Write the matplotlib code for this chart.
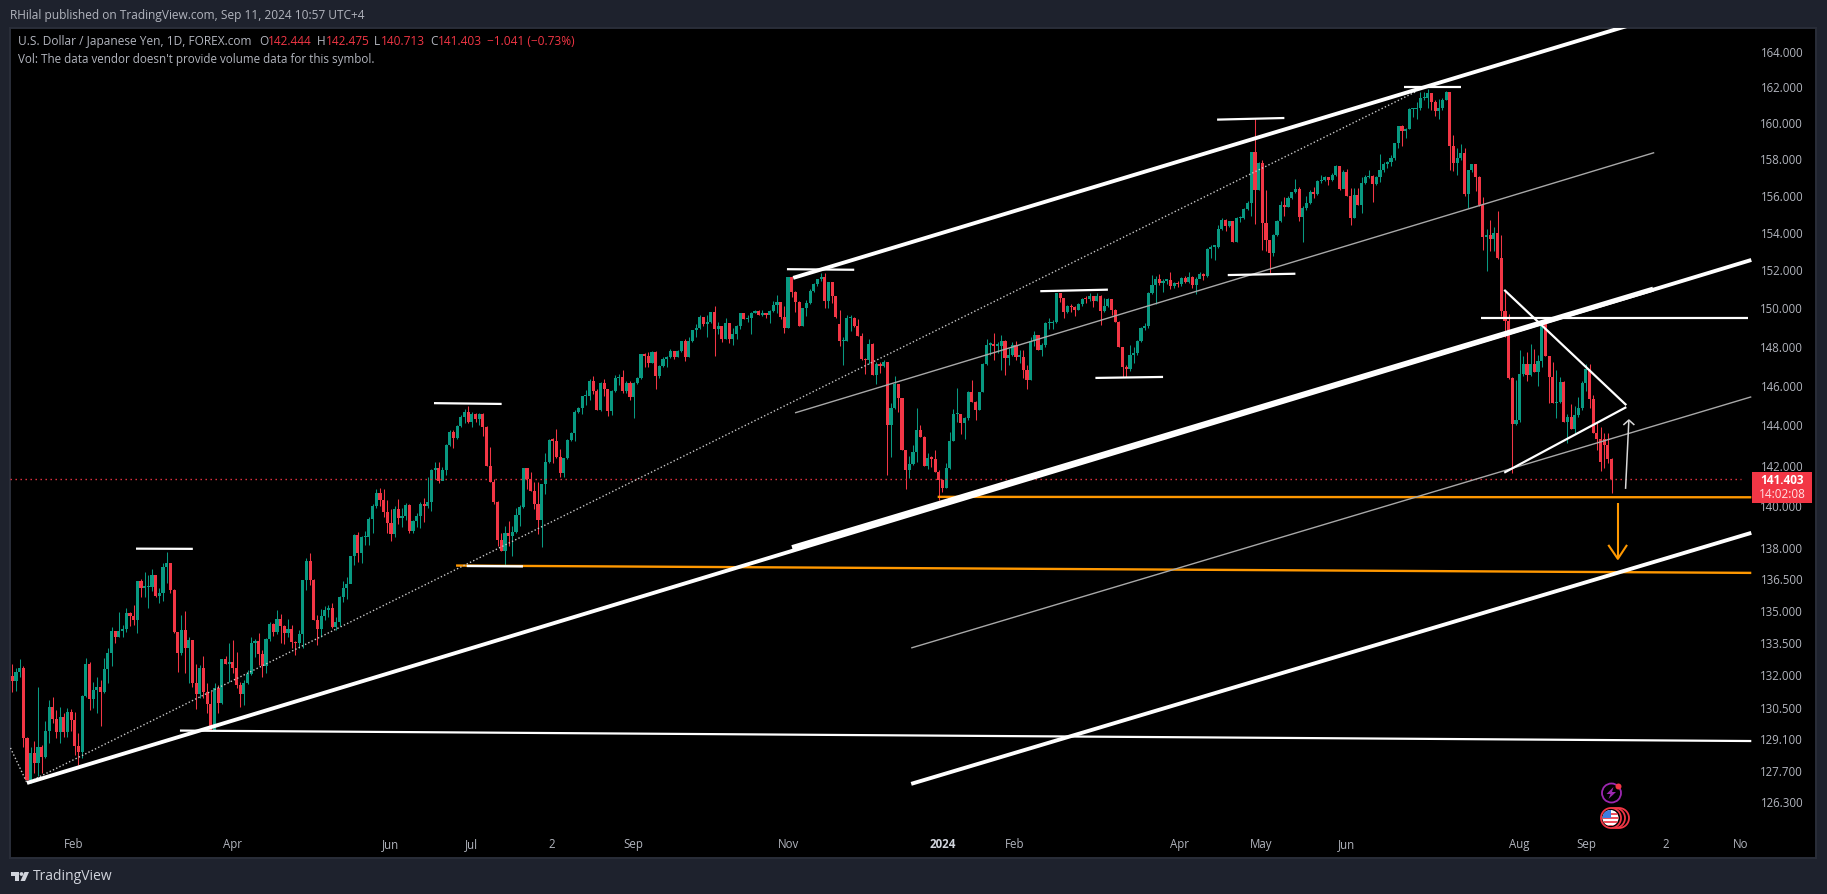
import matplotlib
matplotlib.use('Agg')
import matplotlib.pyplot as plt
from matplotlib.patches import Circle, Rectangle, Polygon
from matplotlib.transforms import blended_transform_factory

plt.rcParams['font.family'] = ['Open Sans', 'DejaVu Sans']

first_open = 132.05
# opens that do not sit on the previous close (1-based candle number)
gap_opens = {226: 149.25, 434: 143.40}

closes = [
    131.82,132.22,132.41,129.24,127.36,128.54,128.09,128.84,128.36,129.55,
    130.63,130.08,129.49,130.17,129.49,130.42,130.04,128.87,128.62,131.13,
    132.60,131.00,131.41,131.53,131.33,132.37,133.09,134.13,133.87,134.13,
    134.23,134.96,134.84,134.65,136.49,136.17,136.19,136.19,136.77,135.78,
    135.90,137.17,137.36,136.06,134.06,133.09,134.18,133.32,133.71,131.74,
    131.22,132.43,131.30,130.77,129.55,131.49,130.83,132.84,132.62,132.71,
    132.40,131.64,131.24,131.71,132.13,133.55,133.65,133.06,132.50,133.74,
    134.46,134.06,134.68,134.37,134.03,134.23,133.62,133.55,133.98,136.54,
    137.46,136.51,134.65,134.23,134.84,135.12,135.20,134.30,134.56,135.72,
    136.15,136.33,137.68,138.69,137.84,138.58,138.58,139.47,140.07,140.72,
    140.39,139.78,139.26,138.74,139.96,139.51,139.62,140.15,138.87,139.37,
    139.62,140.20,140.07,140.30,141.86,141.98,141.32,141.86,143.12,143.75,
    143.47,144.05,144.52,144.77,144.27,144.65,144.40,144.65,144.02,142.05,
    141.28,140.31,138.45,137.93,138.77,138.64,138.82,139.66,140.05,141.94,
    141.40,140.85,140.20,139.42,141.15,142.26,143.35,143.32,142.48,141.73,
    142.45,143.35,143.68,144.75,144.94,145.56,145.56,146.34,145.80,144.85,
    146.22,145.92,144.80,145.84,146.47,146.52,145.80,146.22,145.50,146.22,
    146.47,147.71,147.61,147.23,147.83,146.56,147.09,147.45,147.53,147.87,
    147.53,147.87,148.35,147.53,148.40,148.93,149.05,149.64,149.26,149.38,
    149.88,149.00,149.16,148.47,149.30,148.47,148.75,149.16,149.81,149.50,
    149.55,149.85,149.95,149.73,149.81,149.73,149.94,150.25,150.39,149.60,
    149.06,151.70,150.93,150.42,149.17,150.07,150.33,151.00,151.37,151.59,
    151.72,150.43,151.43,150.70,149.60,148.35,148.40,149.55,149.55,149.17,
    148.64,147.45,147.40,148.23,146.63,147.20,147.10,147.30,144.10,144.98,
    146.17,145.45,142.83,141.84,142.16,142.77,143.86,143.52,142.08,142.44,
    142.41,141.75,141.38,140.97,141.95,143.30,144.64,144.64,144.19,144.44,
    145.78,145.28,144.86,145.75,147.20,148.18,148.18,148.13,148.13,148.39,
    147.49,147.66,148.18,147.57,147.57,146.89,146.38,148.40,148.69,147.92,
    148.18,149.30,149.30,149.38,150.87,150.60,149.90,150.20,150.13,149.99,
    150.30,150.57,150.55,150.73,150.48,150.73,149.94,150.17,150.57,149.99,
    149.38,148.05,147.06,146.94,147.66,147.74,148.35,149.07,149.16,150.90,
    151.30,151.61,151.42,151.52,151.56,151.26,151.38,151.35,151.65,151.47,
    151.70,151.30,151.61,151.88,151.79,153.21,153.33,153.33,154.28,154.77,
    154.41,154.68,153.60,154.86,154.86,155.36,155.70,158.45,156.36,157.84,
    154.59,153.68,152.97,153.95,154.73,155.58,155.45,155.94,156.25,156.43,
    154.91,155.40,155.70,156.30,156.18,156.85,156.94,157.07,156.90,157.20,
    157.71,156.43,157.36,156.06,154.89,156.10,155.57,156.75,157.09,157.16,
    156.72,157.09,157.45,157.78,157.90,158.15,158.95,159.88,159.65,159.74,
    160.86,160.86,160.90,161.46,161.46,161.74,161.27,160.75,160.90,161.37,
    161.78,158.82,157.85,158.12,158.43,156.16,157.45,157.78,157.09,155.57,
    153.86,153.95,153.74,154.04,152.71,149.94,149.39,146.50,144.13,144.35,
    146.69,147.20,146.64,147.20,146.77,147.35,149.30,147.58,146.55,145.20,
    145.24,146.26,144.27,144.49,143.90,144.60,144.94,146.24,146.95,145.41,
    143.72,143.40,142.27,143.10,142.40,141.403,
]
highs = [
    132.58,132.40,132.81,132.50,129.27,128.81,129.11,131.53,128.90,130.00,
    130.95,131.07,130.49,130.65,130.34,130.58,130.53,130.42,129.44,131.18,
    132.86,132.70,131.79,132.02,131.87,132.86,133.32,134.30,134.13,135.04,
    134.42,135.20,135.04,135.36,136.49,136.57,136.93,136.77,137.04,136.77,
    136.14,137.33,137.87,137.36,136.11,134.06,134.88,135.09,133.84,133.71,
    132.60,132.55,132.96,131.71,131.37,131.71,131.64,132.84,132.96,133.58,
    133.71,133.14,131.79,131.87,132.33,133.87,133.74,134.03,133.25,133.79,
    134.57,134.49,135.12,134.92,134.42,134.70,134.42,133.68,134.18,136.54,
    137.57,137.81,136.57,134.88,135.15,135.28,135.36,135.44,134.80,135.78,
    136.50,136.69,137.68,138.72,138.85,138.64,138.88,139.58,140.18,140.92,
    140.95,140.92,140.39,139.94,140.07,140.43,139.99,140.23,140.18,139.42,
    139.75,140.31,140.48,141.51,141.89,142.27,142.27,142.03,143.15,143.85,
    143.85,144.10,144.60,144.90,145.06,144.77,144.72,144.68,144.68,144.05,
    142.98,141.44,140.34,138.77,139.13,139.37,139.13,139.99,140.15,141.94,
    141.94,141.76,141.28,141.28,141.15,142.70,143.40,143.43,143.88,142.88,
    142.45,143.38,143.76,144.85,144.99,145.56,145.87,146.42,146.59,145.90,
    146.25,146.42,145.93,145.88,146.64,146.69,146.89,146.30,146.30,146.25,
    146.52,147.71,147.78,147.83,147.87,147.87,147.14,147.53,147.60,147.95,
    147.87,147.92,148.40,148.47,148.58,148.96,149.26,149.73,149.64,149.73,
    149.90,150.20,149.38,149.16,149.55,149.33,149.05,149.20,149.85,149.85,
    149.73,149.90,149.99,149.99,149.99,149.85,149.99,150.43,150.77,150.39,
    150.20,151.73,151.71,150.96,150.48,150.07,150.51,151.07,151.40,151.61,
    151.95,151.93,151.46,151.46,150.74,150.00,148.56,149.72,149.72,149.60,
    149.50,148.80,147.48,148.50,148.26,147.31,147.31,147.40,147.30,145.22,
    146.58,146.17,145.45,142.86,142.53,143.10,144.93,144.10,143.55,142.69,
    142.53,142.86,141.84,141.42,142.20,143.73,144.90,145.95,144.64,144.50,
    145.82,146.38,145.30,145.78,147.24,148.50,148.30,148.78,148.30,148.70,
    148.44,148.00,148.30,148.35,147.92,147.92,147.14,148.58,148.90,148.69,
    148.26,149.38,149.56,149.47,150.90,150.87,150.60,150.25,150.30,150.17,
    150.34,150.60,150.73,150.87,150.73,150.87,150.78,150.60,150.60,150.57,
    150.04,149.42,148.09,147.14,148.18,148.05,148.43,149.12,149.33,150.95,
    151.83,151.79,151.88,151.60,151.62,151.97,151.47,151.52,151.72,151.79,
    151.97,151.77,151.72,151.97,151.95,153.25,153.39,153.42,154.50,154.86,
    154.80,154.73,154.68,154.90,154.95,155.40,155.80,158.47,160.28,157.93,
    158.02,156.36,153.70,154.00,154.77,155.76,155.98,156.03,156.30,156.97,
    156.57,155.52,156.03,156.36,156.54,156.90,157.20,157.12,157.09,157.30,
    157.75,157.71,157.45,157.53,156.48,156.48,156.48,157.09,157.22,157.45,
    157.22,157.12,158.36,157.93,157.99,158.30,158.98,159.92,159.97,159.82,
    160.90,160.90,161.27,161.78,161.78,161.96,161.74,161.37,161.40,161.46,
    161.84,161.78,159.40,158.67,158.90,158.67,157.47,157.82,157.78,157.16,
    155.99,154.30,154.75,154.38,155.26,153.95,151.03,149.79,146.55,146.38,
    147.92,147.58,147.83,148.23,147.97,147.66,149.44,149.38,147.60,147.28,
    146.90,146.52,146.30,144.63,145.16,145.05,145.52,146.30,147.20,147.20,
    145.60,144.18,144.00,143.72,143.69,142.475,
]
lows = [
    131.29,131.37,132.02,128.84,127.36,127.21,127.65,127.53,127.65,128.32,
    129.02,129.89,129.24,129.02,129.29,129.29,129.52,128.47,128.02,128.32,
    131.10,130.47,130.58,130.34,129.78,131.26,131.71,132.52,133.55,133.87,
    133.87,134.10,134.34,134.42,134.03,135.72,135.72,135.20,135.99,135.72,
    135.44,135.52,136.38,135.90,134.03,132.22,133.01,132.20,131.71,131.56,
    130.53,131.02,131.02,130.37,129.55,129.55,130.37,130.77,132.62,131.79,
    132.17,131.49,130.62,130.72,131.68,132.10,132.93,132.55,132.02,132.17,
    133.68,133.90,134.00,133.55,133.52,133.87,133.36,133.01,133.32,133.32,
    136.06,136.30,134.65,133.48,133.84,134.65,134.80,134.26,134.18,134.34,
    135.50,135.65,136.53,137.25,137.41,137.36,138.21,138.21,138.80,139.99,
    140.10,139.58,138.80,138.42,138.61,139.23,139.06,139.42,138.80,138.80,
    139.06,139.01,139.31,140.00,139.87,141.40,141.24,141.37,141.61,143.05,
    142.97,143.40,144.02,144.22,144.18,144.02,144.27,144.10,143.55,142.05,
    141.28,140.18,138.16,137.90,137.20,138.16,137.69,138.77,139.10,140.00,
    140.92,140.85,139.94,138.74,138.09,140.68,142.20,142.20,142.45,141.50,
    141.50,142.42,143.32,143.32,144.70,144.65,145.11,145.34,145.64,144.85,
    144.82,145.54,144.57,144.60,145.75,146.13,145.69,145.69,145.37,144.47,
    146.19,146.42,147.06,147.06,147.23,145.93,146.47,147.06,147.06,147.48,
    147.45,147.53,147.82,147.36,147.53,148.30,148.58,149.00,149.16,148.58,
    149.33,147.60,148.75,148.30,148.47,148.26,148.18,148.47,148.98,149.50,
    149.38,148.75,149.81,149.70,149.68,149.58,149.33,149.88,149.85,149.50,
    148.80,149.06,150.69,149.90,149.17,149.17,149.67,150.30,150.91,151.25,
    151.48,150.10,150.10,150.37,149.55,148.10,147.14,148.35,148.90,149.12,
    148.64,147.40,146.70,147.20,146.63,146.18,146.73,147.06,141.63,142.52,
    144.90,144.77,142.83,140.93,141.46,142.10,142.28,143.50,142.08,141.90,
    142.00,141.75,140.40,140.80,140.97,141.90,143.28,144.27,143.65,143.39,
    144.35,145.28,144.35,144.86,145.75,147.15,147.66,147.40,147.75,146.90,
    146.63,147.12,147.60,147.40,147.23,146.47,145.90,146.38,148.10,147.92,
    147.60,148.09,148.99,148.99,149.30,150.38,149.55,149.85,149.90,149.68,
    149.96,150.20,150.34,150.48,150.12,150.43,149.21,149.90,150.13,149.73,
    149.38,148.05,146.51,146.51,146.85,147.23,147.66,148.30,148.95,149.03,
    150.83,150.30,151.30,150.95,151.35,151.06,151.12,151.17,151.26,151.42,
    151.42,151.12,150.83,151.65,151.56,151.72,152.75,152.62,153.26,154.23,
    154.14,154.38,153.56,153.60,154.63,154.80,155.27,154.98,154.55,156.36,
    153.15,153.12,151.90,152.84,153.92,154.64,154.95,155.45,155.88,156.21,
    154.73,153.60,155.30,155.63,155.94,156.12,156.76,156.85,156.67,156.85,
    157.12,156.39,156.60,156.03,154.50,154.85,155.57,155.16,156.72,157.03,
    155.75,156.63,156.83,157.36,157.56,157.70,158.02,158.70,158.80,159.22,
    159.71,160.38,160.30,160.80,161.37,160.90,160.77,160.44,160.30,160.80,
    161.33,157.50,157.40,157.20,158.02,156.06,155.40,157.36,156.35,155.50,
    153.15,152.02,153.10,153.10,152.68,149.65,148.60,146.43,141.70,144.10,
    144.27,146.60,146.30,146.58,146.77,146.09,147.05,147.58,145.20,145.20,
    144.44,145.20,144.27,143.22,143.90,143.69,144.52,144.86,145.80,144.94,
    143.68,142.85,141.80,141.95,142.20,140.713,
]

price_ticks = [164, 162, 160, 158, 156, 154, 152, 150, 148, 146, 144, 142, 140,
               138, 136.5, 135, 133.5, 132, 130.5, 129.1, 127.7, 126.3]
time_labels = ['Feb', 'Apr', 'Jun', 'Jul', '2', 'Sep', 'Nov', '2024', 'Feb', 'Apr',
               'May', 'Jun', 'Aug', 'Sep', '2', 'No']
time_bars = [16.8, 60, 102.8, 125, 146.8, 168.8, 211, 253, 272.5, 317.4,
             339.7, 363, 410, 428, 449.8, 470]

# drawings on the chart as (bar, price) pairs
thick_lines = [[(4.0, 127.22), (473, 152.62)],
               [(212.4, 151.67), (442.8, 165.80)],
               [(244.5, 127.18), (473, 138.79)]]
channel_overlap = [(212.1, 138.08), (446.3, 151.08)]
thin_lines = [[(212.9, 144.71), (446.6, 158.43)],
              [(244.5, 133.34), (473, 145.52)]]
dotted_lines = [[(4.0, 127.22), (381.6, 161.81)],
                [(-0.5, 128.78), (4.0, 127.22)]]
level_lines = [[(33.65, 138.03), (49.1, 138.02)],
               [(114.7, 145.20), (133.1, 145.16)],
               [(210.7, 152.13), (229, 152.10)],
               [(279.6, 150.97), (298, 151.05)],
               [(294.6, 146.48), (313, 146.53)],
               [(327.7, 160.26), (346, 160.35)],
               [(330.6, 151.82), (349, 151.89)],
               [(378.6, 162.11), (394, 162.11)],
               [(45.6, 129.56), (473, 129.09)],
               [(399.5, 149.56), (472.1, 149.56)],
               [(405.8, 151.04), (439, 145.10)],
               [(405.8, 141.73), (439, 145.00)]]
orange_lines = [[(120.7, 137.22), (473, 136.87)],
                [(251.7, 140.54), (473, 140.52)]]
orange_white_part = [(123.6, 137.2), (138.9, 137.18)]
orange_arrow = [[(436.7, 140.24), (436.7, 137.54)],
                [(434.1, 138.21), (436.7, 137.54), (439.2, 138.21)]]
white_arrow = [[(438.8, 140.93), (439.7, 144.35)],
               [(438.2, 144.10), (439.7, 144.35), (441.2, 144.10)]]

BG = '#1e222d'
GREEN = '#089981'
RED = '#f23645'
ORANGE = '#ff9800'
TEXT = '#b2b5be'

fig = plt.figure(figsize=(18.27, 8.94), dpi=100, facecolor=BG)
ax = fig.add_axes([10 / 1827, 36 / 894, 1806 / 1827, 830.3 / 894], facecolor='black')
ax.set_yscale('log')
ax.set_xlim(-0.626, 490.6)
ax.set_ylim(123.94, 165.47)
ax.set_xticks([])
ax.set_yticks([])
ax.minorticks_off()
ax.yaxis.set_minor_locator(matplotlib.ticker.NullLocator())
for s in ax.spines.values():
    s.set_color('#2a2e39')
    s.set_linewidth(1.4)

# candles
for i, c in enumerate(closes):
    num = i + 1
    if num in gap_opens:
        o = gap_opens[num]
    else:
        o = closes[i - 1] if i else first_open
    col = GREEN if c >= o else RED
    ax.vlines(i, lows[i], highs[i], color=col, lw=0.75, zorder=2)
    top = max(o, c)
    bottom = min(o, c)
    if top - bottom < 0.07:
        top = bottom + 0.07
    ax.bar(i, top - bottom, bottom=bottom, width=0.85, color=col, linewidth=0, zorder=3)


def draw(seg, **kw):
    ax.plot([p[0] for p in seg], [p[1] for p in seg], solid_capstyle='butt', zorder=5, **kw)


ax.axhline(closes[-1], xmin=0, xmax=0.9585, color=RED, lw=1, ls=(0, (1, 2.6)), zorder=4)
for seg in orange_lines:
    draw(seg, color=ORANGE, lw=1.7)
draw(orange_white_part, color='white', lw=1.7)
for seg in dotted_lines:
    draw(seg, color='#c8c8c8', lw=1.0, ls=(0, (1, 1.6)))
for seg in thin_lines:
    draw(seg, color='#a8a8a8', lw=1.0)
for seg in thick_lines:
    draw(seg, color='white', lw=2.8)
draw(channel_overlap, color='white', lw=3.6)
for seg in level_lines:
    draw(seg, color='white', lw=1.6)
for seg in orange_arrow:
    draw(seg, color=ORANGE, lw=1.5)
for seg in white_arrow:
    draw(seg, color='#d8d8d8', lw=1.1)

# price scale, time scale
for t in price_ticks:
    ax.text(487.1, t, f'{t:.3f}', color=TEXT, fontsize=8.3, ha='right', va='center', zorder=6)
xtrans = blended_transform_factory(ax.transData, ax.transAxes)
for b, lab in zip(time_bars, time_labels):
    bold = lab == '2024'
    ax.text(b, 0.0157, lab, transform=xtrans, color='#d1d4dc' if bold else TEXT, fontsize=8.3,
            fontweight='bold' if bold else 'normal', ha='center', va='center')

# chrome in pixel coordinates
ov = fig.add_axes([0, 0, 1, 1])
ov.set_xlim(0, 1827)
ov.set_ylim(894, 0)
ov.axis('off')
ov.patch.set_alpha(0)

ov.text(10, 15, 'RHilal published on TradingView.com, Sep 11, 2024 10:57 UTC+4', color=TEXT,
        fontsize=8.6, va='center')
ov.text(18, 41.5, 'U.S. Dollar / Japanese Yen, 1D, FOREX.com', color=TEXT, fontsize=8.6, va='center')
ov.text(18, 59, "Vol: The data vendor doesn't provide volume data for this symbol.", color=TEXT,
        fontsize=8.4, va='center')
for x, s, col in [(259, 'O', TEXT), (268.3, '142.444', RED), (317, 'H', TEXT), (326, '142.475', RED),
                  (374, 'L', TEXT), (381, '140.713', RED), (430, 'C', TEXT), (438, '141.403', RED),
                  (487, '\u22121.041 (\u22120.73%)', RED)]:
    ov.text(x, 41.5, s, color=col, fontsize=8.6, va='center')

# last price tag
ov.add_patch(Rectangle((1752, 472), 60, 31, color=RED, lw=0))
ov.text(1782, 481, '141.403', color='white', fontsize=8.5, fontweight='bold', ha='center', va='center')
ov.text(1782, 495, '14:02:08', color='#ffdfe2', fontsize=8.5, ha='center', va='center')

# event icons
ov.add_patch(Circle((1611.5, 793), 9.5, fc='black', ec='#9c27b0', lw=1.3))
ov.add_patch(Polygon([(1613.5, 787), (1606.5, 794), (1610.5, 794), (1608.5, 799), (1616, 792), (1612, 792)],
                     color='#9c27b0', lw=0))
ov.add_patch(Circle((1618.5, 786.5), 3, color=RED, lw=0))
for cx in (1619, 1615, 1611):
    ov.add_patch(Circle((cx, 818), 10, fc='black', ec=RED, lw=1.3))
clip = Circle((1610.5, 818), 8, fc='white', lw=0)
ov.add_patch(clip)
for sy in (813, 817, 821, 825):
    st = ov.add_patch(Rectangle((1602, sy), 17, 2, color='#f0525f', lw=0))
    st.set_clip_path(clip)
blue = ov.add_patch(Rectangle((1602, 810), 9, 8, color='#3b7de0', lw=0))
blue.set_clip_path(clip)

# logo
ov.add_patch(Polygon([(10.5, 872), (19, 872), (19, 881), (15, 881), (15, 876), (10.5, 876)], color='#d1d4dc', lw=0))
ov.add_patch(Circle((21.5, 874), 1.9, color='#d1d4dc', lw=0))
ov.add_patch(Polygon([(24.5, 872), (29, 872), (25, 881), (20.5, 881)], color='#d1d4dc', lw=0))
ov.text(33, 877, 'TradingView', color='#d1d4dc', fontsize=10, va='center')

fig.savefig('out.png', dpi=100, facecolor=BG)
